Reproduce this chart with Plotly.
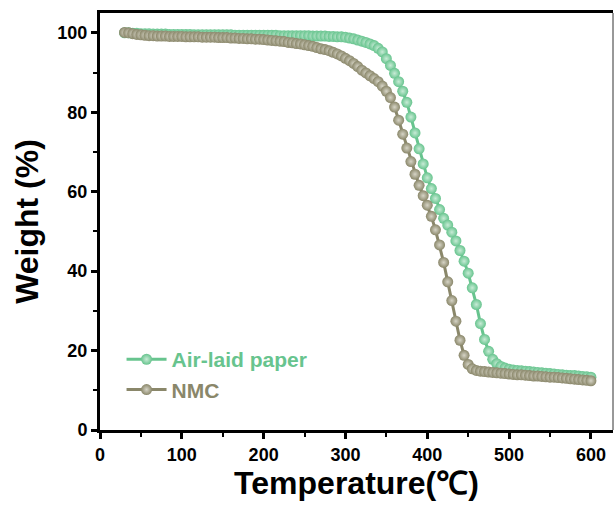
import plotly.graph_objects as go

# Temperature sample grid (°C)
temperature = list(range(30, 601, 5))

# Air-laid paper weight (%)
air_laid = [
    100.0, 100.0, 99.9, 99.9, 99.8, 99.8, 99.8, 99.7, 99.7, 99.7,   # 30-75
    99.7, 99.6, 99.6, 99.6, 99.6, 99.6, 99.6, 99.5, 99.5, 99.5,      # 80-125
    99.5, 99.5, 99.5, 99.5, 99.5, 99.5, 99.5, 99.4, 99.4, 99.4,      # 130-175
    99.4, 99.4, 99.4, 99.4, 99.4, 99.4, 99.4, 99.4, 99.3, 99.3,      # 180-225
    99.3, 99.3, 99.3, 99.3, 99.3, 99.3, 99.2, 99.2, 99.2, 99.2,      # 230-275
    99.1, 99.1, 99.0, 99.0, 98.9, 98.7, 98.5, 98.2, 97.9, 97.6,      # 280-325
    97.2, 96.8, 96.1, 95.2, 93.5, 91.8, 89.8, 87.7, 85.3, 82.5,      # 330-375
    78.8, 74.8, 70.8, 67.0, 63.5, 60.8, 58.3, 55.5, 53.3, 51.6,      # 380-425
    49.8, 47.6, 45.2, 42.5, 39.5, 35.8, 31.6, 26.8, 22.8, 19.8,      # 430-475
    17.8, 16.7, 16.0, 15.6, 15.3, 15.1, 15.0, 14.9, 14.8, 14.7,      # 480-525
    14.6, 14.5, 14.4, 14.3, 14.2, 14.1, 14.0, 13.9, 13.8, 13.7,      # 530-575
    13.7, 13.6, 13.5, 13.4, 13.3,                                    # 580-600
]

# NMC weight (%)
nmc = [
    100.1, 100.0, 99.8, 99.6, 99.5, 99.4, 99.3, 99.3, 99.2, 99.2,    # 30-75
    99.2, 99.1, 99.1, 99.1, 99.1, 99.0, 99.0, 99.0, 99.0, 98.9,      # 80-125
    98.9, 98.9, 98.9, 98.8, 98.8, 98.8, 98.7, 98.7, 98.6, 98.6,      # 130-175
    98.5, 98.5, 98.4, 98.4, 98.3, 98.2, 98.1, 98.0, 97.9, 97.8,      # 180-225
    97.6, 97.5, 97.3, 97.2, 97.0, 96.8, 96.6, 96.3, 96.0, 95.8,      # 230-275
    95.5, 95.1, 94.7, 94.2, 93.6, 93.0, 92.3, 91.5, 90.6, 89.9,      # 280-325
    89.2, 88.5, 87.7, 86.6, 85.3, 83.7, 81.3, 78.0, 74.5, 71.0,      # 330-375
    67.6, 64.4, 61.6, 59.0, 56.6, 53.8, 50.4, 46.6, 42.2, 37.3,      # 380-425
    32.6, 27.4, 22.6, 18.8, 16.5, 15.4, 15.0, 14.8, 14.7, 14.6,      # 430-475
    14.5, 14.4, 14.3, 14.2, 14.1, 14.0, 13.9, 13.9, 13.8, 13.7,      # 480-525
    13.6, 13.6, 13.5, 13.4, 13.3, 13.3, 13.2, 13.1, 13.0, 12.9,      # 530-575
    12.8, 12.7, 12.6, 12.5, 12.4,                                    # 580-600
]

series_names = ["Air-laid paper", "NMC"]
series_colors = ["#67C48E", "#8A876A"]
series_highlight = ["#C8EBD6", "#D6D4C6"]

assert len(temperature) == len(air_laid) == len(nmc)

FONT = "Arial, Liberation Sans, sans-serif"

fig = go.Figure()
for name, ys, col, hl in zip(series_names, [air_laid, nmc], series_colors, series_highlight):
    fig.add_trace(go.Scatter(
        x=temperature, y=ys, mode="lines+markers",
        name=f"<b><span style='color:{col}'>{name}</span></b>",
        line=dict(color=col, width=3),
        marker=dict(symbol="circle", size=11, color=col,
                    gradient=dict(type="radial", color=hl),
                    line=dict(width=0)),
    ))

fig.update_layout(
    width=615, height=511,
    margin=dict(l=100, r=2, t=13, b=81),
    paper_bgcolor="white", plot_bgcolor="white",
    font=dict(family=FONT, color="black"),
    showlegend=True,
    legend=dict(x=0.042, y=0.218, xanchor="left", yanchor="top",
                bgcolor="rgba(0,0,0,0)", font=dict(size=21, family=FONT),
                itemwidth=40, tracegroupgap=2),
    xaxis=dict(
        range=[0, 627], tickvals=[0, 100, 200, 300, 400, 500, 600],
        ticks="outside", ticklen=6, tickwidth=2.5, tickcolor="black",
        minor=dict(dtick=50, tick0=0, ticks="outside", ticklen=4, tickwidth=2, tickcolor="black"),
        showline=True, linewidth=3, linecolor="black", mirror=True,
        showgrid=False, zeroline=False,
        tickfont=dict(size=18, family=FONT, weight="bold"),
        title=dict(text="<b>Temperature(℃)</b>", font=dict(size=32, family=FONT), standoff=8),
    ),
    yaxis=dict(
        range=[0, 105], tickvals=[0, 20, 40, 60, 80, 100],
        ticks="outside", ticklen=6, tickwidth=2.5, tickcolor="black",
        minor=dict(dtick=10, tick0=0, ticks="outside", ticklen=4, tickwidth=2, tickcolor="black"),
        showline=True, linewidth=3, linecolor="black", mirror=False,
        showgrid=False, zeroline=False,
        tickfont=dict(size=18, family=FONT, weight="bold"),
        title=dict(text="<b>Weight (%)</b>", font=dict(size=32, family=FONT), standoff=10),
    ),
    shapes=[dict(type="line", xref="paper", yref="paper", x0=1, x1=1, y0=0, y1=1,
                 line=dict(color="#333333", width=1))],
)

fig.write_html("out.html")
